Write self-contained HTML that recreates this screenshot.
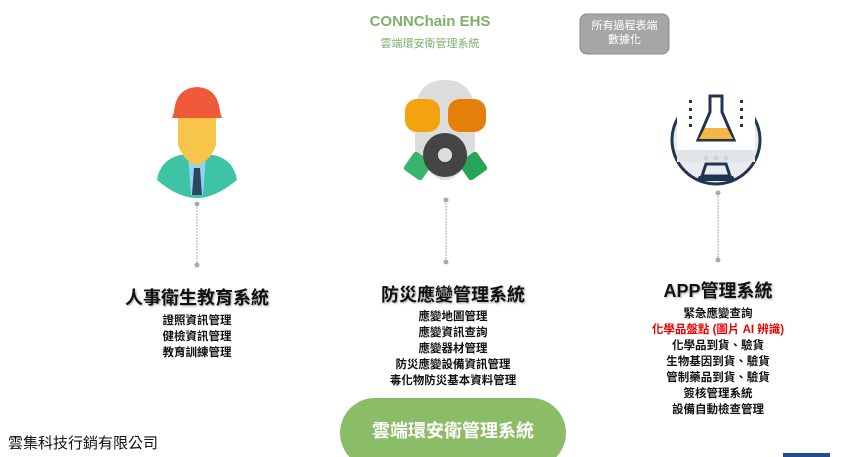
<!DOCTYPE html>
<html><head><meta charset="utf-8"><style>
html,body{margin:0;padding:0;background:#fff;}
body{width:850px;height:457px;position:relative;overflow:hidden;font-family:"Liberation Sans","Noto Sans CJK TC",sans-serif;}
.t{position:absolute;text-align:center;white-space:nowrap;}
.h{font-weight:bold;font-size:18px;color:#111;text-shadow:1px 1px 2px rgba(0,0,0,.35);}
.l{font-size:11.5px;line-height:16px;color:#111;font-weight:bold;}
</style></head><body>
<svg width="850" height="457" style="position:absolute;left:0;top:0">
 <g stroke="#aaa" stroke-width="1" stroke-dasharray="2,1">
  <line x1="197" y1="204" x2="197" y2="265"/>
  <line x1="446" y1="200" x2="446" y2="262"/>
  <line x1="718" y1="193" x2="718" y2="260"/>
 </g>
 <g fill="#aaa">
  <circle cx="197" cy="204" r="2.5"/><circle cx="197" cy="265" r="2.5"/>
  <circle cx="446" cy="200" r="2.5"/><circle cx="446" cy="262" r="2.5"/>
  <circle cx="718" cy="193" r="2.5"/><circle cx="718" cy="260" r="2.5"/>
 </g>
 <!-- worker -->
 <path d="M157 180 Q160 160 180 155 L214 155 Q234 160 237 180 Q215 198 197 198 Q178 198 157 180Z" fill="#3ec4a5"/>
 <path d="M188 155 L206 155 L203 195 L191 195Z" fill="#8fd3f5"/>
 <path d="M194 168 L200 168 L202 195 L192 195Z" fill="#2d4660"/>
 <path d="M178 118 L216 118 L216 145 Q210 162 197 165 Q184 162 178 145Z" fill="#f8c44a"/>
 <path d="M174 112 Q176 88 197 87 Q218 88 220 112 L222 118 L172 118Z" fill="#ee5a3a"/>
 <!-- gas mask -->
 <path d="M415 110 Q418 80 445 80 Q472 80 475 110 L475 150 Q460 180 445 180 Q430 180 415 150Z" fill="#dcdcdc"/>
 <rect x="405" y="99" width="35" height="33" rx="12" fill="#f5a20f"/>
 <rect x="448" y="99" width="38" height="33" rx="12" fill="#e67e0a"/>
 <rect x="407" y="155" width="22" height="22" rx="3" fill="#37b56a" transform="rotate(35 418 166)"/>
 <rect x="462" y="155" width="22" height="22" rx="3" fill="#27a35a" transform="rotate(-35 473 166)"/>
 <circle cx="445" cy="155" r="22" fill="#444"/>
 <circle cx="445" cy="155" r="7" fill="#ddd"/>
 <!-- monitor -->
 <circle cx="716" cy="140" r="44" fill="#e9ecef" stroke="#1f3650" stroke-width="3"/>
 <rect x="677" y="93" width="78" height="62" fill="#fff"/>
 <rect x="677" y="150" width="78" height="12" fill="#e2e5e8"/>
 <g fill="#cfd3d7"><circle cx="706" cy="158" r="2.5"/><circle cx="716" cy="158" r="2.5"/><circle cx="726" cy="158" r="2.5"/></g>
 <path d="M710 96 L722 96 L722 112 L734 140 L698 140 L710 112Z" fill="#fff" stroke="#1f3650" stroke-width="3"/>
 <path d="M705 128 L727 128 L733 139 L699 139Z" fill="#f7b544"/>
 <g fill="#1f3650"><rect x="689" y="100" width="3" height="3"/><rect x="689" y="108" width="3" height="3"/><rect x="689" y="116" width="3" height="3"/><rect x="689" y="124" width="3" height="3"/><rect x="740" y="100" width="3" height="3"/><rect x="740" y="108" width="3" height="3"/><rect x="740" y="116" width="3" height="3"/><rect x="740" y="124" width="3" height="3"/></g>
 <path d="M706 164 L726 164 L730 176 L702 176Z" fill="none" stroke="#1f3650" stroke-width="3"/>
 <rect x="698" y="176" width="36" height="5" rx="2" fill="#1f3650"/>
 <!-- grey badge -->
 <rect x="580" y="14" width="89" height="40" rx="7" fill="#a6a6a6" stroke="#888"/>
 <!-- green pill -->
 <rect x="340" y="398" width="226" height="70" rx="35" fill="#8bbd68"/>
 <rect x="783" y="453" width="47" height="4" fill="#1f4e8c"/>
</svg>
<div class="t" style="left:360px;top:13px;width:140px;font-weight:bold;font-size:15px;color:#7fb06a;">CONNChain EHS</div>
<div class="t" style="left:360px;top:35px;width:140px;font-size:11px;color:#7fb06a;">雲端環安衛管理系統</div>
<div class="t" style="left:580px;top:19px;width:89px;font-size:11px;line-height:14px;color:#fff;">所有過程表端<br>數據化</div>
<div class="t h" style="left:97px;top:284px;width:200px;">人事衛生教育系統</div>
<div class="t l" style="left:97px;top:313px;width:200px;">證照資訊管理<br>健檢資訊管理<br>教育訓練管理</div>
<div class="t h" style="left:353px;top:281px;width:200px;">防災應變管理系統</div>
<div class="t l" style="left:353px;top:309px;width:200px;">應變地圖管理<br>應變資訊查詢<br>應變器材管理<br>防災應變設備資訊管理<br>毒化物防災基本資料管理</div>
<div class="t h" style="left:618px;top:277px;width:200px;">APP管理系統</div>
<div class="t l" style="left:618px;top:306px;width:200px;">緊急應變查詢<br><span style="color:#e00;">化學品盤點 (圖片 AI 辨識)</span><br>化學品到貨、驗貨<br>生物基因到貨、驗貨<br>管制藥品到貨、驗貨<br>簽核管理系統<br>設備自動檢查管理</div>
<div class="t" style="left:340px;top:417px;width:226px;font-size:18px;font-weight:bold;color:#fff;">雲端環安衛管理系統</div>
<div class="t" style="left:8px;top:432px;font-size:15px;color:#111;">雲集科技行銷有限公司</div>
</body></html>
